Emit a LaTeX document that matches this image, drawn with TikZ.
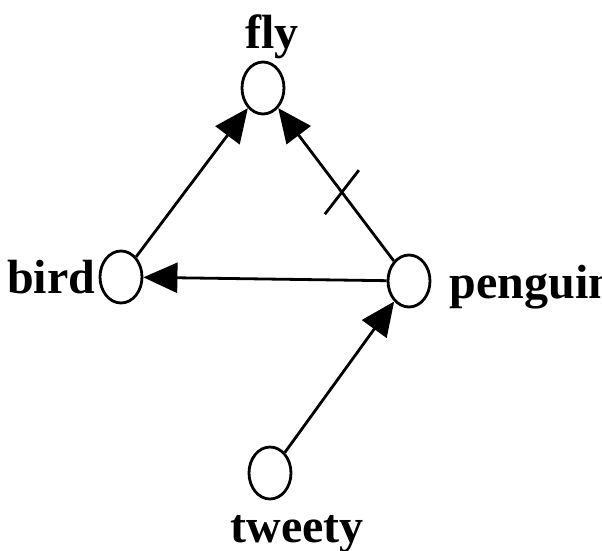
\documentclass[tikz,border=0pt]{standalone}
\usepackage{fontspec}
\setmainfont{Liberation Serif}
\usetikzlibrary{arrows.meta,calc,shapes.geometric}

\begin{document}
\begin{tikzpicture}[
     x = 1pt,
     y = -1pt,
     state/.style = {draw, ellipse, line width = 2.8pt, inner sep = 0pt,
                     minimum width = 42pt, minimum height = 52pt},
     every label/.style = {font = \bfseries\fontsize{48}{51}\selectfont,
                           inner sep = 0pt},
     line width = 2.8pt,
     -{Triangle[length = 34pt, width = 30pt]}
    ]
    \useasboundingbox (0,0) rectangle (602,551);

    \node [state, label = {[xshift = 9pt]above:fly}] (fly) at (263,88) {};
    \node [state, label = {[label distance = 2pt]left:bird}] (bird) at (121,277) {};
    \node [state, label = {[label distance = 17pt, yshift = -6pt]right:penguin}] (penguin) at (409,281) {};
    \node [state, label = {[label distance = 14pt, xshift = 27pt]below:tweety}] (tweety) at (270,473) {};

    \draw (bird) -- (fly);
    \draw (penguin) -- (bird);
    \draw (tweety) -- (penguin);
    \draw (penguin) -- (fly);

    % blocked link
    \coordinate (cut) at ($(penguin.center)!0.46!(fly.center)$);
    \draw [-] ($(cut)+(-17,22)$) -- ($(cut)+(17,-22)$);

\end{tikzpicture}
\end{document}
